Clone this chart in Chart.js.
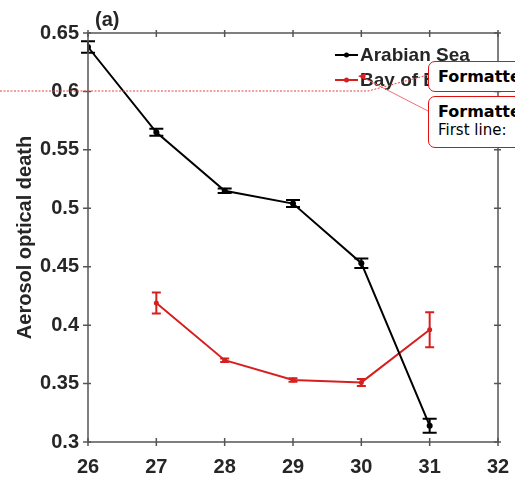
<!DOCTYPE html>
<html>
<head>
<meta charset="utf-8">
<script src="https://cdn.jsdelivr.net/npm/chart.js@4.4.1/dist/chart.umd.min.js"></script>
<style>
  html, body { margin: 0; padding: 0; background: #fff; overflow: hidden; }
  #wrap { position: relative; width: 515px; height: 481px; }
  #c { position: absolute; left: 0; top: 0; }
  .note {
    position: absolute; background: #fff; border: 1.5px solid #e01010;
    border-radius: 7px; font-family: "DejaVu Sans", sans-serif; color: #000;
    white-space: nowrap; overflow: hidden; box-sizing: border-box;
  }
  .note b { font-weight: bold; font-size: 16px; display: block; line-height: 19px; }
  .note span { font-size: 15px; display: block; line-height: 18px; }
  #links { position: absolute; left: 0; top: 0; pointer-events: none; }
</style>
</head>
<body>
<div id="wrap">
  <canvas id="c" width="515" height="481"></canvas>
  <svg id="links" width="515" height="481">
    <polyline points="0,91 368,91 428,75" fill="none" stroke="#e84040" stroke-width="1" stroke-dasharray="2,1.5"/>
    <line x1="362" y1="77" x2="428" y2="111" stroke="#f07070" stroke-width="1"/>
    <polygon points="358,76 366,73 365,80" fill="#e02020"/>
  </svg>
  <div class="note" style="left:428px; top:61px; width:100px; height:31px; padding:5px 0 0 9px;"><b>Formatted</b></div>
  <div class="note" style="left:428px; top:96px; width:100px; height:52px; padding:5px 0 0 9px;"><b>Formatted</b><span>First line:</span></div>
</div>
<script>
// Sea surface temperature bins (°C)
const sstBins = [26, 27, 28, 29, 30, 31];

// Mean aerosol optical depth per bin, with error half-widths
const arabianSea = [0.638, 0.565, 0.515, 0.504, 0.453, 0.314];
const arabianSeaErr = [0.005, 0.003, 0.002, 0.003, 0.004, 0.006];

const bayOfBengal = [null, 0.419, 0.370, 0.353, 0.351, 0.396];
const bayOfBengalErr = [null, 0.009, 0.0015, 0.0015, 0.003, 0.015];

const yTickLabels = ['0.3', '0.35', '0.4', '0.45', '0.5', '0.55', '0.6', '0.65'];
const xTickLabels = ['26', '27', '28', '29', '30', '31', '32'];

const RED = 'rgb(214,32,32)';
const BLACK = '#000';
const FONT = '"Liberation Sans", Arial, sans-serif';
const TEXT = '#262626';

function toPoints(xs, ys) {
  return xs.map((x, i) => ({ x: x, y: ys[i] })).filter(p => p.y !== null);
}

// Vertical error bars with caps, drawn through the chart scales
const errorBars = {
  id: 'errorBars',
  afterDatasetsDraw(chart) {
    const { ctx, scales: { x, y } } = chart;
    chart.data.datasets.forEach(ds => {
      ctx.save();
      ctx.strokeStyle = ds.borderColor;
      ctx.lineWidth = 2;
      ds.data.forEach((p, i) => {
        const e = ds.errors[i];
        const px = x.getPixelForValue(p.x);
        const top = y.getPixelForValue(p.y + e);
        const bot = y.getPixelForValue(p.y - e);
        const w = ds.capWidth / 2;
        ctx.beginPath();
        ctx.moveTo(px, top); ctx.lineTo(px, bot);
        ctx.moveTo(px - w, top); ctx.lineTo(px + w, top);
        ctx.moveTo(px - w, bot); ctx.lineTo(px + w, bot);
        ctx.stroke();
      });
      ctx.restore();
    });
  }
};

// Boxed axes with ticks on all four sides, panel tag and legend
const frame = {
  id: 'frame',
  afterDraw(chart) {
    const { ctx, chartArea: a, scales: { x, y } } = chart;
    ctx.save();
    ctx.strokeStyle = '#555';
    ctx.lineWidth = 1.5;
    ctx.strokeRect(a.left, a.top, a.right - a.left, a.bottom - a.top);
    ctx.beginPath();
    x.ticks.forEach(t => {
      const px = x.getPixelForValue(t.value);
      ctx.moveTo(px, a.bottom + 4); ctx.lineTo(px, a.bottom - 4);
      ctx.moveTo(px, a.top - 3); ctx.lineTo(px, a.top + 4);
    });
    y.ticks.forEach(t => {
      const py = y.getPixelForValue(t.value);
      ctx.moveTo(a.left - 5, py); ctx.lineTo(a.left + 3, py);
      ctx.moveTo(a.right + 3, py); ctx.lineTo(a.right - 4, py);
    });
    ctx.stroke();

    // panel tag
    ctx.fillStyle = TEXT;
    ctx.font = 'bold 20px ' + FONT;
    ctx.textBaseline = 'middle';
    ctx.textAlign = 'left';
    ctx.fillText('(a)', 95, 20);

    // legend
    ctx.font = 'bold 19px ' + FONT;
    chart.data.datasets.forEach((ds, i) => {
      const ly = 55 + i * 25;
      ctx.strokeStyle = ds.borderColor;
      ctx.fillStyle = ds.borderColor;
      ctx.lineWidth = 2;
      ctx.beginPath();
      ctx.moveTo(335, ly); ctx.lineTo(358, ly);
      ctx.stroke();
      ctx.beginPath();
      ctx.arc(346.5, ly, 2.5, 0, Math.PI * 2);
      ctx.fill();
      ctx.fillStyle = TEXT;
      ctx.fillText(ds.label, 360, ly + 1);
    });
    ctx.restore();
  }
};

new Chart(document.getElementById('c'), {
  type: 'line',
  data: {
    datasets: [
      {
        label: 'Arabian Sea',
        data: toPoints(sstBins, arabianSea),
        errors: arabianSeaErr.filter(v => v !== null),
        capWidth: 14,
        borderColor: BLACK,
        backgroundColor: BLACK,
        borderWidth: 2,
        pointRadius: 3,
        pointBorderWidth: 0,
        tension: 0
      },
      {
        label: 'Bay of Bengal',
        data: toPoints(sstBins, bayOfBengal),
        errors: bayOfBengalErr.filter(v => v !== null),
        capWidth: 9,
        borderColor: RED,
        backgroundColor: RED,
        borderWidth: 2,
        pointRadius: 2.5,
        pointBorderWidth: 0,
        tension: 0
      }
    ]
  },
  options: {
    responsive: false,
    animation: false,
    layout: { padding: { left: 0, right: 17, top: 33, bottom: 0 } },
    plugins: { legend: { display: false }, tooltip: { enabled: false } },
    scales: {
      x: {
        type: 'linear',
        min: 26, max: 32,
        afterFit(s) { s.height = 39; s.paddingLeft = 0; s.paddingRight = 0; },
        grid: { display: false, drawTicks: false },
        border: { display: false },
        ticks: {
          stepSize: 1,
          padding: 13,
          maxRotation: 0,
          color: TEXT,
          font: { family: FONT, size: 20, weight: 'bold' },
          callback: (v) => xTickLabels[Math.round(v - 26)]
        }
      },
      y: {
        min: 0.3, max: 0.65,
        afterFit(s) { s.width = 88; s.paddingTop = 0; s.paddingBottom = 0; },
        grid: { display: false, drawTicks: false },
        border: { display: false },
        title: {
          display: true,
          text: 'Aerosol optical death',
          color: TEXT,
          font: { family: FONT, size: 20, weight: 'bold' },
          padding: { top: 13, bottom: 0 }
        },
        ticks: {
          stepSize: 0.05,
          padding: 9,
          color: TEXT,
          font: { family: FONT, size: 20, weight: 'bold' },
          callback: (v) => yTickLabels[Math.round((v - 0.3) / 0.05)]
        }
      }
    }
  },
  plugins: [errorBars, frame]
});
</script>
</body>
</html>
